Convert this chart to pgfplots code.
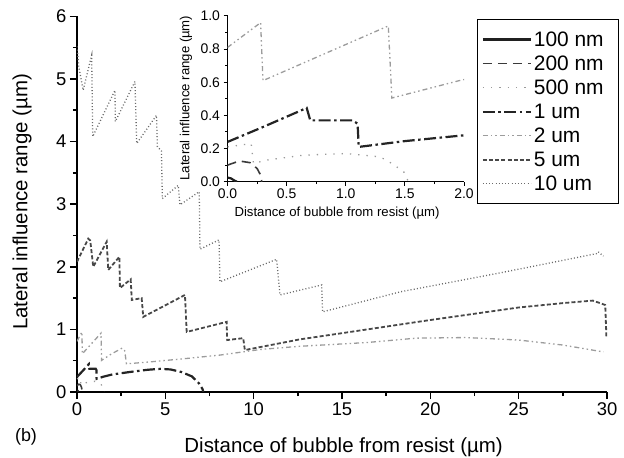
\documentclass[border=0pt]{standalone}
\usepackage{pgfplots}
\usepackage{pgfplotstable}
\pgfplotsset{compat=1.18}
\usepackage{fontspec}
\setmainfont{Liberation Sans}
\setsansfont{Liberation Sans}

\definecolor{cA}{HTML}{202020}
\definecolor{cB}{HTML}{3A3A3A}
\definecolor{cC}{HTML}{9A9A9A}
\definecolor{cD}{HTML}{242424}
\definecolor{cE}{HTML}{9C9C9C}
\definecolor{cF}{HTML}{484848}
\definecolor{cG}{HTML}{6A6A6A}

\pgfplotstableread{
x y
0 0.025
0.03 0.02
0.06 0.006
0.08 0
}\tA
\pgfplotstableread{
x y
0 0.10
0.10 0.125
0.19 0.115
0.25 0.08
0.28 0.04
0.29 0
}\tB
\pgfplotstableread{
x y
0 0.21
0.20 0.23
0.22 0.11
0.33 0.13
0.64 0.16
1.00 0.17
1.29 0.15
1.39 0.11
1.49 0.06
1.53 0
}\tC
\pgfplotstableread{
x y
0 0.24
0.30 0.33
0.67 0.445
0.70 0.37
1.06 0.37
1.10 0.35
1.11 0.21
1.50 0.245
2.0 0.28
3.0 0.32
4.0 0.355
4.7 0.37
5.3 0.36
5.9 0.32
6.5 0.25
6.9 0.14
7.1 0.05
7.15 0
}\tD
\pgfplotstableread{
x y
0 0.81
0.28 0.96
0.30 0.61
1.36 0.94
1.39 0.505
1.96 0.61
2.55 0.70
2.70 0.66
2.80 0.45
4.1 0.48
6.0 0.53
8.1 0.59
10.4 0.68
12.6 0.73
16.4 0.79
19.2 0.86
22.0 0.87
25.0 0.83
27.5 0.75
29.8 0.64
}\tE
\pgfplotstableread{
x y
0 2.08
0.64 2.45
0.75 2.42
0.92 2.00
1.68 2.40
1.77 1.95
2.40 2.16
2.43 1.66
3.04 1.80
3.10 1.47
3.66 1.50
3.75 1.20
6.11 1.55
6.21 0.96
8.47 1.12
8.50 0.83
9.41 0.86
9.50 0.67
12.6 0.84
15.0 0.94
20.0 1.15
25.0 1.35
27.5 1.42
29.2 1.46
29.9 1.39
29.97 0.86
}\tF
\pgfplotstableread{
x y
0 5.52
0.10 5.20
0.35 4.82
0.83 5.38
0.89 4.08
2.15 4.82
2.17 4.32
3.28 4.96
3.38 3.97
4.50 4.42
4.55 3.92
4.78 3.85
4.83 3.09
5.73 3.30
5.83 2.99
6.92 3.20
6.96 2.28
8.04 2.43
8.09 1.76
11.30 2.12
11.49 1.55
13.85 1.71
13.90 1.28
18.3 1.60
23.9 1.90
29.4 2.21
29.5 2.24
29.8 2.17
}\tG

\tikzset{
 s100/.style={color=cA, line width=2.2bp, solid},
 s200/.style={color=cB, line width=1.6bp, dash pattern=on 9bp off 6bp},
 s500/.style={color=cC, line width=1.3bp, dash pattern=on 1.3bp off 7bp},
 s1/.style={color=cD, line width=2.2bp, dash pattern=on 12bp off 3.5bp on 2.5bp off 3.5bp},
 s2/.style={color=cE, line width=1.3bp, dash pattern=on 5bp off 3bp on 1.5bp off 3bp on 1.5bp off 3bp},
 s5/.style={color=cF, line width=1.8bp, dash pattern=on 4bp off 2.2bp},
 s10/.style={color=cG, line width=1.3bp, dash pattern=on 1bp off 2.2bp},
}

\begin{document}
\begin{tikzpicture}
\useasboundingbox (-77bp,-66bp) rectangle (547bp,392bp);
\begin{axis}[
 at={(0bp,0bp)}, anchor=south west,
 scale only axis, width=530bp, height=375.6bp,
 xmin=0, xmax=30, ymin=0, ymax=6,
 axis lines*=left,
 axis line style={line width=2.2bp, -},
 tick align=outside,
 major tick length=7bp, minor tick length=4bp,
 every tick/.style={black, line width=1.6bp},
 xtick={0,5,...,30}, ytick={0,1,...,6},
 minor x tick num=1, minor y tick num=1,
 /pgf/number format/assume math mode=true,
 tick label style={font=\fontsize{18.5}{18.5}\selectfont},
 xlabel={Distance of bubble from resist (µm)},
 ylabel={Lateral influence range (µm)},
 label style={font=\fontsize{20.5}{22}\selectfont},
 xlabel style={at={(axis description cs:0.503,-0.16)}, anchor=base},
 ylabel style={at={(axis description cs:-0.1038,0.506)}, anchor=center},
 legend image code/.code={\draw[#1] (0bp,0bp) -- (48bp,0bp);},
 legend cell align=left,
 legend style={at={(axis description cs:0.7547,0.9938)}, anchor=north west,
   draw=black, line width=1.4bp, font=\fontsize{21}{22}\selectfont,
   inner xsep=4bp, inner ysep=12bp, row sep=8bp,
   nodes={inner xsep=2bp, inner ysep=0bp}},
]
\addplot[s100] table {\tA}; \addlegendentry{100 nm\hspace*{9bp}}
\addplot[s200] table {\tB}; \addlegendentry{200 nm}
\addplot[s500] table {\tC}; \addlegendentry{500 nm}
\addplot[s1] table {\tD}; \addlegendentry{1 um}
\addplot[s2] table {\tE}; \addlegendentry{2 um}
\addplot[s5] table {\tF}; \addlegendentry{5 um}
\addplot[s10] table {\tG}; \addlegendentry{10 um}
\end{axis}
\begin{axis}[
 at={(150.5bp,210.3bp)}, anchor=south west,
 scale only axis, width=236.5bp, height=165.7bp,
 xmin=0, xmax=2, ymin=0, ymax=1,
 axis lines*=left,
 axis line style={line width=1.3bp, -},
 tick align=outside,
 major tick length=4bp, minor tick length=2.5bp,
 every tick/.style={black, line width=1bp},
 xtick={0,0.5,...,2}, ytick={0,0.2,...,1.0},
 minor x tick num=1, minor y tick num=1,
 /pgf/number format/assume math mode=true,
 xticklabel style={/pgf/number format/.cd, fixed, fixed zerofill, precision=1},
 yticklabel style={/pgf/number format/.cd, fixed, fixed zerofill, precision=1},
 tick label style={font=\fontsize{14}{14}\selectfont},
 xlabel={Distance of bubble from resist (µm)},
 ylabel={Lateral influence range (µm)},
 label style={font=\fontsize{13.2}{14}\selectfont},
 xlabel style={at={(axis description cs:0.463,-0.213)}, anchor=base},
 ylabel style={at={(axis description cs:-0.1755,0.505)}, anchor=center},
]
\addplot[s100] table {\tA};
\addplot[s200] table {\tB};
\addplot[s500] table {\tC};
\addplot[s1] table {\tD};
\addplot[s2] table {\tE};
\addplot[s5] table {\tF};
\addplot[s10] table {\tG};
\end{axis}
\node[font=\fontsize{18}{18}\selectfont, anchor=center] at (-51bp,-45bp) {(b)};
\end{tikzpicture}
\end{document}
